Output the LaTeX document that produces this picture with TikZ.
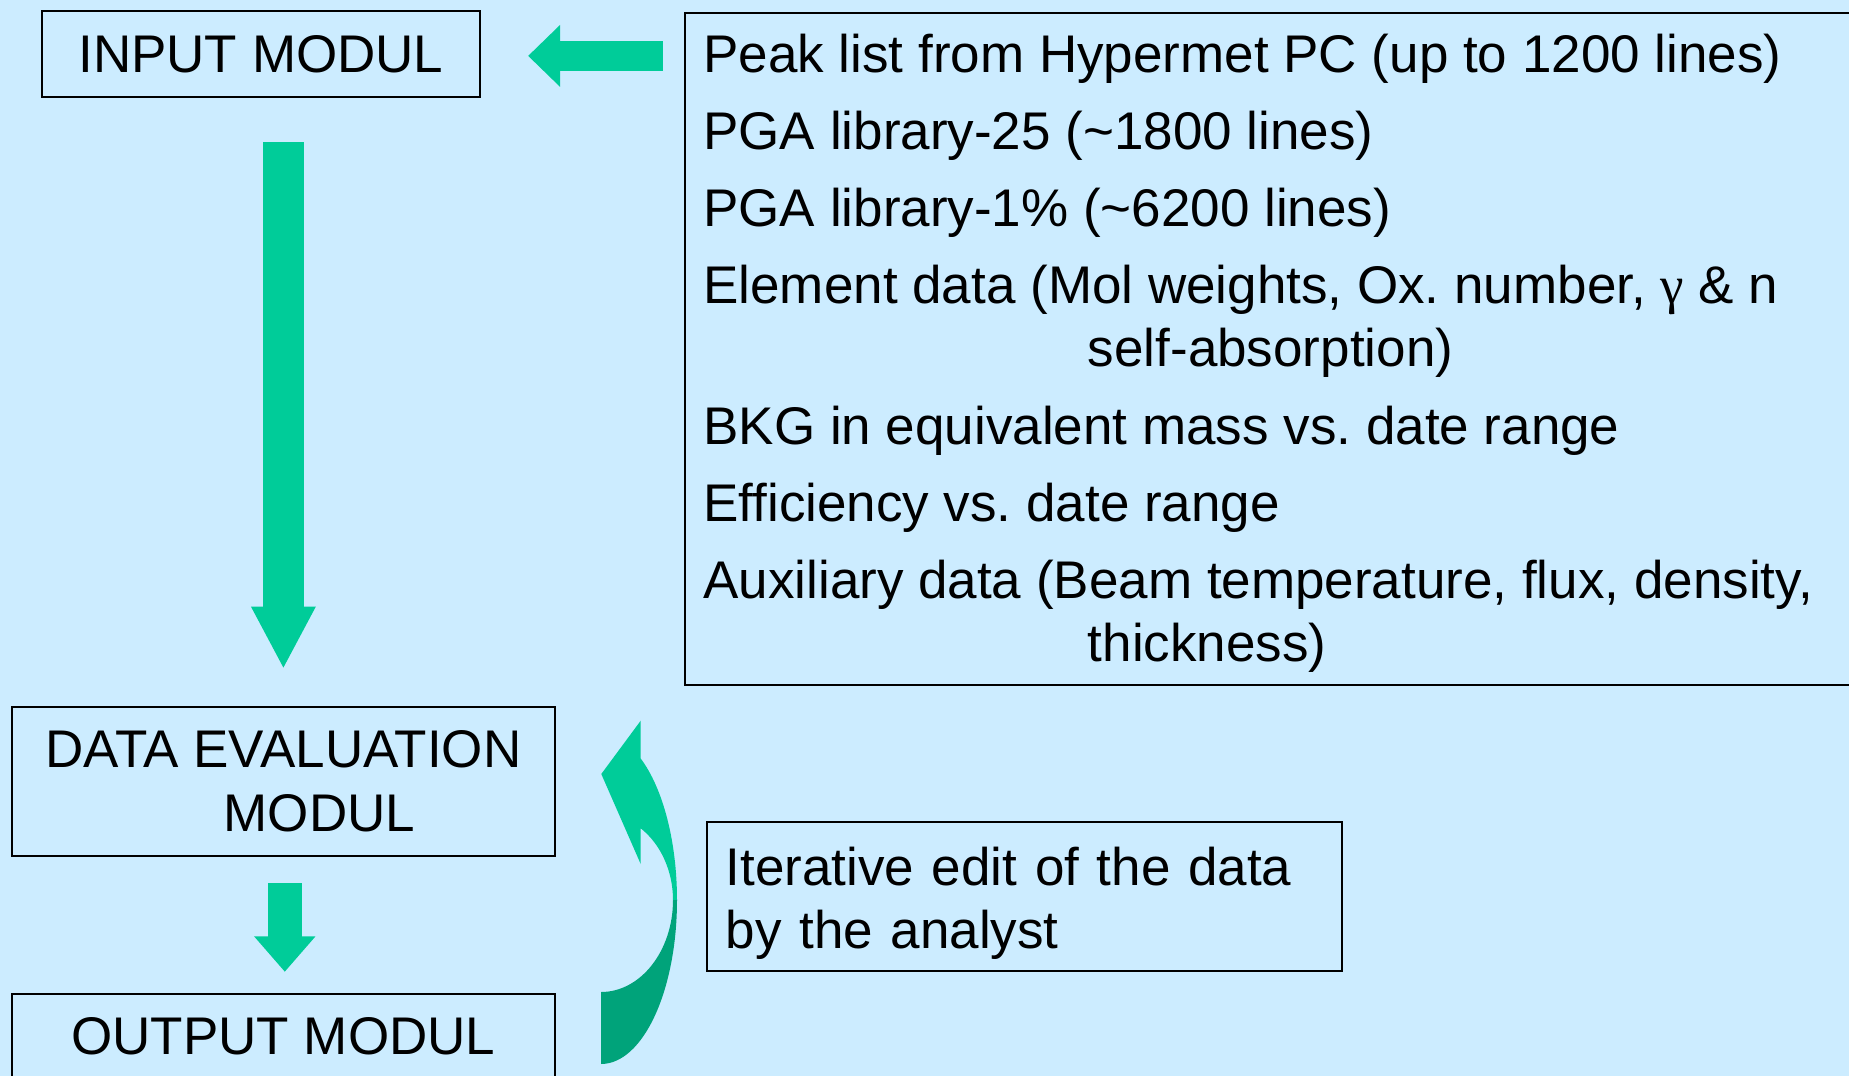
\documentclass[tikz,border=0pt]{standalone}
\usepackage{fontspec}
\setmainfont{Liberation Sans}
\newfontfamily\greekfont{Liberation Serif}
\usetikzlibrary{arrows.meta,calc}

\definecolor{bgblue}{RGB}{204,236,255}
\definecolor{arrowgreen}{RGB}{0,204,153}
\definecolor{darkgreen}{RGB}{0,163,122}

\tikzset{
  modbox/.style={draw=black, line width=1pt, inner sep=0pt, align=center},
  listtext/.style={anchor=base west, inner sep=0pt},
  flowarrow/.style={draw=arrowgreen, -{Triangle[width=30pt,length=16pt]}},
}

\begin{document}
\frenchspacing
\begin{tikzpicture}[x=0.5pt, y=-0.5pt, every node/.style={font=\fontsize{26.5}{31.75}\selectfont}]
  \useasboundingbox (0,0) rectangle (1849,1076);
  \fill[bgblue] (0,0) rectangle (1849,1076);
  \clip (0,0) rectangle (1849,1076);

  % modules
  \node[modbox, minimum width=219.2pt, minimum height=42.8pt] (input) at (260.9,53.9) {INPUT MODUL};
  \node[modbox, minimum width=271.5pt, minimum height=74.5pt] (evalmod) at (283.4,781.2) {DATA EVALUATION\\\hspace*{36pt}MODUL};
  \node[modbox, minimum width=271.5pt, minimum height=42pt] (output) at (283.4,1036) {OUTPUT MODUL};

  % input data
  \node[modbox, anchor=north west, minimum width=608pt, minimum height=336pt] (source) at (684,12) {};
  \node[listtext] (peak) at (703,72.7) {Peak list from Hypermet PC (up to 1200 lines)};
  \node[listtext] (libA) at (703,149.8) {PGA library-25 (\textasciitilde1800 lines)};
  \node[listtext] (libB) at (703,226.6) {PGA library-1\% (\textasciitilde6200 lines)};
  \node[listtext] (elem) at (703,303.4) {Element data (Mol weights, Ox. number, {\greekfont γ} \& n};
  \node[listtext] (elemb) at (1087.5,366.9) {self-absorption)};
  \node[listtext] (bkg) at (703,444.5) {BKG in equivalent mass vs. date range};
  \node[listtext] (eff) at (703,521.6) {Efficiency vs. date range};
  \node[listtext] (aux) at (703,598.3) {Auxiliary data (Beam temperature, flux, density,};
  \node[listtext] (auxb) at (1087.5,661.8) {thickness)};

  \node[modbox, align=left, inner xsep=9.5pt, text width=298.6pt, minimum height=74.1pt, text height=19pt, text depth=30.4pt] (edit) at (1024.4,896.4) {Iterative edit of the data\\by the analyst};

  % arrows
  \draw[flowarrow, line width=14.7pt] ($(source.west |- input.east)+(-21.3,2)$) -- ($(input.east)+(47,2)$);
  \draw[flowarrow, line width=20.6pt, -{Triangle[width=30pt,length=31.25pt]}] ($(input.south -| evalmod.north)+(0,44.5)$) -- ($(evalmod.north)+(0,-36.7)$);
  \draw[flowarrow, line width=17pt, -{Triangle[width=29.5pt,length=17.7pt]}] ($(evalmod.south)+(1.4,26.3)$) -- ($(output.north)+(1.4,-21.2)$);

  % feedback loop
  \fill[arrowgreen] (677,900) .. controls (677,842.3) and (663.2,788.6) .. (640.7,758.5) -- (640.7,720.7) -- (601.3,774) -- (640.7,864) -- (640.7,828.3) .. controls (660.8,844.2) and (673,871.2) .. (673,900) -- cycle;
  \fill[darkgreen] (673,900) .. controls (673,950.8) and (640.7,992) .. (601,992) -- (601,1064) .. controls (643,1064) and (677,990.5) .. (677,900) -- cycle;
\end{tikzpicture}
\end{document}
